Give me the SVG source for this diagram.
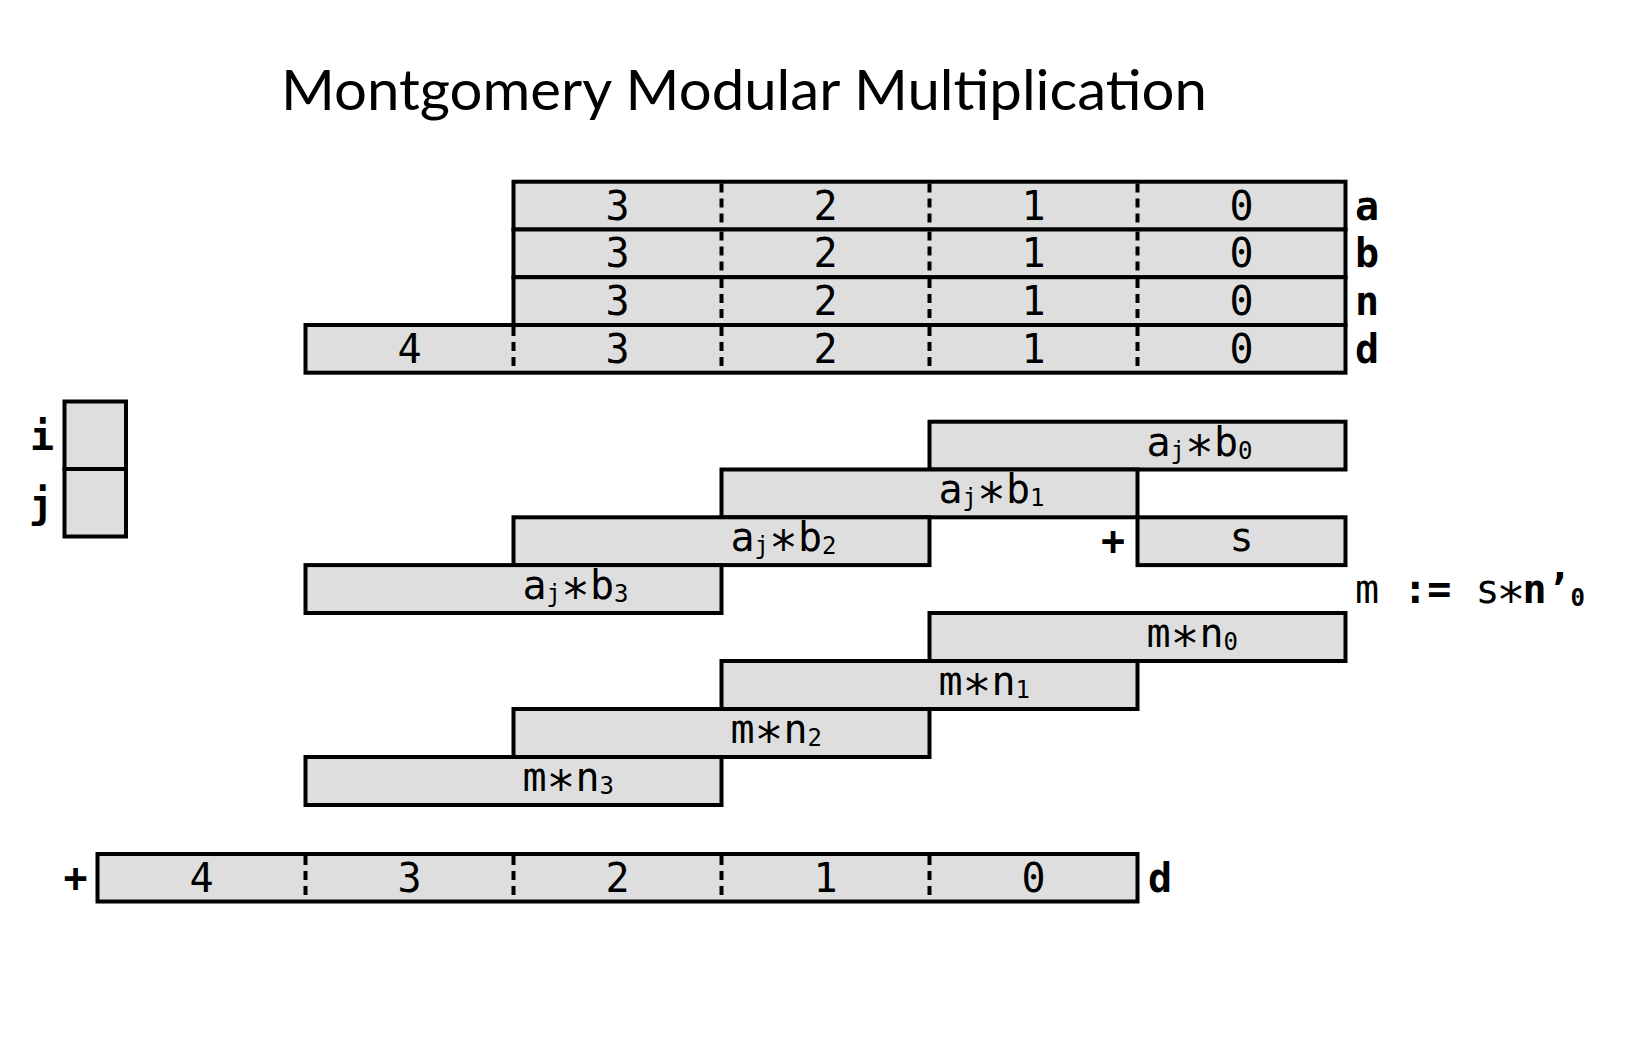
<svg xmlns="http://www.w3.org/2000/svg" width="1632" height="1044" viewBox="0 0 1632 1044">
<style>
.box{fill:#dedede;stroke:#000;stroke-width:4;stroke-linejoin:miter}
.dash{stroke:#000;stroke-width:4;stroke-dasharray:9 6}
.t{font-family:"DejaVu Sans Mono",monospace;font-size:40px;fill:#000}
.c{text-anchor:middle}
.b{font-weight:bold}
.sub{font-size:24px}
.ast{font-size:48px}
.title{font-family:Lato,"Open Sans",sans-serif;font-size:57px;fill:#000}
</style>
<rect width="1632" height="1044" fill="#fff"/>
<text class="title" x="281" y="110" textLength="926" lengthAdjust="spacingAndGlyphs">Montgomery Modular Multiplication</text>

<g id="reg-a">
<rect class="box" x="513.5" y="181.7" width="832" height="47.8"/>
<line class="dash" x1="721.5" y1="183.5" x2="721.5" y2="228"/>
<line class="dash" x1="929.5" y1="183.5" x2="929.5" y2="228"/>
<line class="dash" x1="1137.5" y1="183.5" x2="1137.5" y2="228"/>
<text class="t c" x="617.5" y="219.5">3</text><text class="t c" x="825.5" y="219.5">2</text><text class="t c" x="1033.5" y="219.5">1</text><text class="t c" x="1241.5" y="219.5">0</text>
<text class="t b" x="1355" y="219.5">a</text>
</g>
<g id="reg-b">
<rect class="box" x="513.5" y="229.5" width="832" height="47.8"/>
<line class="dash" x1="721.5" y1="231.5" x2="721.5" y2="276"/>
<line class="dash" x1="929.5" y1="231.5" x2="929.5" y2="276"/>
<line class="dash" x1="1137.5" y1="231.5" x2="1137.5" y2="276"/>
<text class="t c" x="617.5" y="267.3">3</text><text class="t c" x="825.5" y="267.3">2</text><text class="t c" x="1033.5" y="267.3">1</text><text class="t c" x="1241.5" y="267.3">0</text>
<text class="t b" x="1355" y="267.3">b</text>
</g>
<g id="reg-n">
<rect class="box" x="513.5" y="277.2" width="832" height="47.8"/>
<line class="dash" x1="721.5" y1="279" x2="721.5" y2="323.5"/>
<line class="dash" x1="929.5" y1="279" x2="929.5" y2="323.5"/>
<line class="dash" x1="1137.5" y1="279" x2="1137.5" y2="323.5"/>
<text class="t c" x="617.5" y="315">3</text><text class="t c" x="825.5" y="315">2</text><text class="t c" x="1033.5" y="315">1</text><text class="t c" x="1241.5" y="315">0</text>
<text class="t b" x="1355" y="315">n</text>
</g>
<g id="reg-d">
<rect class="box" x="305.5" y="325" width="1040" height="47.7"/>
<line class="dash" x1="513.5" y1="327" x2="513.5" y2="371"/>
<line class="dash" x1="721.5" y1="327" x2="721.5" y2="371"/>
<line class="dash" x1="929.5" y1="327" x2="929.5" y2="371"/>
<line class="dash" x1="1137.5" y1="327" x2="1137.5" y2="371"/>
<text class="t c" x="409.5" y="362.7">4</text><text class="t c" x="617.5" y="362.7">3</text><text class="t c" x="825.5" y="362.7">2</text><text class="t c" x="1033.5" y="362.7">1</text><text class="t c" x="1241.5" y="362.7">0</text>
<text class="t b" x="1355" y="362.7">d</text>
</g>

<g id="ij">
<rect class="box" x="64.5" y="401.5" width="61.5" height="67.5"/>
<rect class="box" x="64.5" y="469" width="61.5" height="67.5"/>
<text class="t b c" x="42" y="450">i</text>
<text class="t b c" x="41" y="518">j</text>
</g>

<g id="ajb0"><rect class="box" x="929.5" y="421.7" width="416" height="47.8"/><text class="t" x="1146.5" y="455.5">a<tspan class="sub" y="458.5">j</tspan><tspan class="ast" y="459.5">∗</tspan><tspan y="455.5">b</tspan><tspan class="sub" y="458.5">0</tspan></text></g>
<g id="ajb1"><rect class="box" x="721.5" y="469.5" width="416" height="47.8"/><text class="t" x="938.5" y="503.3">a<tspan class="sub" y="506.3">j</tspan><tspan class="ast" y="507.3">∗</tspan><tspan y="503.3">b</tspan><tspan class="sub" y="506.3">1</tspan></text></g>
<g id="ajb2"><rect class="box" x="513.5" y="517.3" width="416" height="47.8"/><text class="t" x="730.5" y="551.1">a<tspan class="sub" y="554.1">j</tspan><tspan class="ast" y="555.1">∗</tspan><tspan y="551.1">b</tspan><tspan class="sub" y="554.1">2</tspan></text></g>
<g id="ajb3"><rect class="box" x="305.5" y="565.1" width="416" height="47.9"/><text class="t" x="522.5" y="598.9">a<tspan class="sub" y="601.9">j</tspan><tspan class="ast" y="602.9">∗</tspan><tspan y="598.9">b</tspan><tspan class="sub" y="601.9">3</tspan></text></g>
<g id="s"><rect class="box" x="1137.5" y="517.3" width="208" height="47.8"/><text class="t c" x="1241.5" y="551.1">s</text><text class="t b c" x="1113" y="555">+</text></g>
<g id="m-def"><text class="t" x="1355" y="603">m <tspan class="b">:=</tspan> s<tspan class="ast" dx="-3" y="607">∗</tspan><tspan class="b" dx="-3" y="603">n’</tspan><tspan class="b sub" y="606">0</tspan></text></g>

<g id="mn0"><rect class="box" x="929.5" y="613" width="416" height="48"/><text class="t" x="1146.5" y="646.5">m<tspan class="ast" y="650.5">∗</tspan><tspan y="646.5">n</tspan><tspan class="sub" y="649.5">0</tspan></text></g>
<g id="mn1"><rect class="box" x="721.5" y="661" width="416" height="48"/><text class="t" x="938.5" y="694.5">m<tspan class="ast" y="698.5">∗</tspan><tspan y="694.5">n</tspan><tspan class="sub" y="697.5">1</tspan></text></g>
<g id="mn2"><rect class="box" x="513.5" y="709" width="416" height="48"/><text class="t" x="730.5" y="742.5">m<tspan class="ast" y="746.5">∗</tspan><tspan y="742.5">n</tspan><tspan class="sub" y="745.5">2</tspan></text></g>
<g id="mn3"><rect class="box" x="305.5" y="757" width="416" height="48"/><text class="t" x="522.5" y="790.5">m<tspan class="ast" y="794.5">∗</tspan><tspan y="790.5">n</tspan><tspan class="sub" y="793.5">3</tspan></text></g>

<g id="result-d">
<rect class="box" x="97.5" y="854" width="1040" height="47.5"/>
<line class="dash" x1="305.5" y1="856" x2="305.5" y2="900"/>
<line class="dash" x1="513.5" y1="856" x2="513.5" y2="900"/>
<line class="dash" x1="721.5" y1="856" x2="721.5" y2="900"/>
<line class="dash" x1="929.5" y1="856" x2="929.5" y2="900"/>
<text class="t c" x="201.5" y="891.5">4</text><text class="t c" x="409.5" y="891.5">3</text><text class="t c" x="617.5" y="891.5">2</text><text class="t c" x="825.5" y="891.5">1</text><text class="t c" x="1033.5" y="891.5">0</text>
<text class="t b c" x="75.5" y="891.5">+</text>
<text class="t b" x="1148" y="891.5">d</text>
</g>
<g id="connectors"/>
</svg>
